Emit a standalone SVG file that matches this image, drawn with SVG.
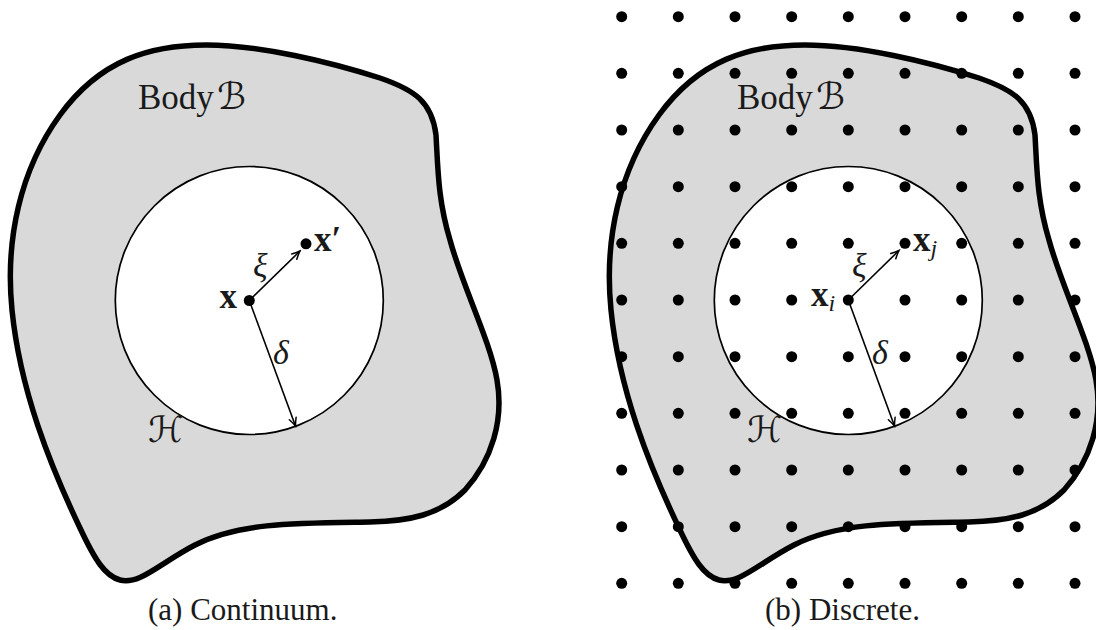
<svg xmlns="http://www.w3.org/2000/svg" width="1096" height="630" viewBox="0 0 1096 630">
  <style>
    .body { fill: #d9d9d9; stroke: #000; stroke-width: 5.5; stroke-linejoin: round; }
    .hor { fill: #fff; stroke: #000; stroke-width: 1.7; }
    .dot { fill: #000; }
    .conn { stroke: #000; stroke-width: 1.6; fill: none; marker-end: url(#arr); }
    .rm { font-family: "Liberation Serif", "Times New Roman", serif; fill: #1a1a1a; }
    .bf { font-family: "Liberation Serif", "Times New Roman", serif; font-weight: bold; fill: #1a1a1a; }
    .it { font-family: "Liberation Serif", "Times New Roman", serif; font-style: italic; fill: #1a1a1a; }
    .cal { font-family: "DejaVu Serif", "DejaVu Sans", serif; font-style: italic; fill: #1a1a1a; }
  </style>
  <defs>
    <marker id="arr" markerUnits="userSpaceOnUse" viewBox="-10 -6 12 12" refX="0" refY="0" markerWidth="12" markerHeight="12" orient="auto">
      <path d="M -8 -3.6 Q -3 -1 0 0 Q -3 1 -8 3.6" fill="none" stroke="#000" stroke-width="1.5" stroke-linecap="round"/>
    </marker>
    <path id="shape" d="M 206 45 C 260 45 330 62 380 78 C 415 90 432 102 436 135 C 438 170 438 200 450 240 C 462 285 490 340 497 380 C 504 420 492 460 465 490 C 440 515 410 521 370 522 C 300 523 240 522 195 545 C 160 563 140 585 120 580 C 105 576 95 560 80 528 C 50 465 20 390 12 310 C 5 240 20 170 60 115 C 100 60 150 45 206 45 Z"/>
  </defs>

  <!-- Panel (a) -->
  <g id="body-a"><use href="#shape" class="body"/></g>
  <g id="horizon-a"><circle class="hor" cx="249.3" cy="300.5" r="134"/></g>
  <g id="connectors-a">
    <line class="conn" x1="249.3" y1="300.5" x2="300" y2="251"/>
    <line class="conn" x1="249.3" y1="300.5" x2="295.5" y2="426"/>
  </g>
  <g id="point-x"><circle class="dot" cx="249.3" cy="300.5" r="5.5"/></g>
  <g id="point-xprime"><circle class="dot" cx="306" cy="243.8" r="5.5"/></g>
  <g id="labels-a">
    <text class="rm" x="138" y="109" font-size="35">Body</text>
    <text class="cal" x="217" y="109" font-size="37">ℬ</text>
    <text class="bf" x="237" y="308" font-size="35" text-anchor="end">x</text>
    <text class="bf" x="314" y="251" font-size="35">x′</text>
    <text class="it" x="253" y="277" font-size="34">ξ</text>
    <text class="it" x="273" y="364" font-size="34">δ</text>
    <text class="cal" x="148" y="442" font-size="36">ℋ</text>
    <text class="rm" x="148" y="620" font-size="31">(a) Continuum.</text>
  </g>

  <!-- Panel (b) -->
  <g id="body-b"><use href="#shape" class="body" transform="translate(599,0)"/></g>
  <g id="horizon-b"><circle class="hor" cx="848.3" cy="300.5" r="134"/></g>
  <g id="grid-b" class="dot">
    <g id="row0"><circle cx="621.7" cy="16.7" r="5.5"/><circle cx="678.3" cy="16.7" r="5.5"/><circle cx="735" cy="16.7" r="5.5"/><circle cx="791.7" cy="16.7" r="5.5"/><circle cx="848.3" cy="16.7" r="5.5"/><circle cx="905" cy="16.7" r="5.5"/><circle cx="961.7" cy="16.7" r="5.5"/><circle cx="1018.3" cy="16.7" r="5.5"/><circle cx="1075" cy="16.7" r="5.5"/></g>
    <g id="row1"><circle cx="621.7" cy="73.3" r="5.5"/><circle cx="678.3" cy="73.3" r="5.5"/><circle cx="735" cy="73.3" r="5.5"/><circle cx="791.7" cy="73.3" r="5.5"/><circle cx="848.3" cy="73.3" r="5.5"/><circle cx="905" cy="73.3" r="5.5"/><circle cx="961.7" cy="73.3" r="5.5"/><circle cx="1018.3" cy="73.3" r="5.5"/><circle cx="1075" cy="73.3" r="5.5"/></g>
    <g id="row2"><circle cx="621.7" cy="130" r="5.5"/><circle cx="678.3" cy="130" r="5.5"/><circle cx="735" cy="130" r="5.5"/><circle cx="791.7" cy="130" r="5.5"/><circle cx="848.3" cy="130" r="5.5"/><circle cx="905" cy="130" r="5.5"/><circle cx="961.7" cy="130" r="5.5"/><circle cx="1018.3" cy="130" r="5.5"/><circle cx="1075" cy="130" r="5.5"/></g>
    <g id="row3"><circle cx="621.7" cy="186.7" r="5.5"/><circle cx="678.3" cy="186.7" r="5.5"/><circle cx="735" cy="186.7" r="5.5"/><circle cx="791.7" cy="186.7" r="5.5"/><circle cx="848.3" cy="186.7" r="5.5"/><circle cx="905" cy="186.7" r="5.5"/><circle cx="961.7" cy="186.7" r="5.5"/><circle cx="1018.3" cy="186.7" r="5.5"/><circle cx="1075" cy="186.7" r="5.5"/></g>
    <g id="row4"><circle cx="621.7" cy="243.3" r="5.5"/><circle cx="678.3" cy="243.3" r="5.5"/><circle cx="735" cy="243.3" r="5.5"/><circle cx="791.7" cy="243.3" r="5.5"/><circle cx="848.3" cy="243.3" r="5.5"/><circle cx="905" cy="243.3" r="5.5"/><circle cx="961.7" cy="243.3" r="5.5"/><circle cx="1018.3" cy="243.3" r="5.5"/><circle cx="1075" cy="243.3" r="5.5"/></g>
    <g id="row5"><circle cx="621.7" cy="300" r="5.5"/><circle cx="678.3" cy="300" r="5.5"/><circle cx="735" cy="300" r="5.5"/><circle cx="791.7" cy="300" r="5.5"/><circle cx="848.3" cy="300" r="5.5"/><circle cx="905" cy="300" r="5.5"/><circle cx="961.7" cy="300" r="5.5"/><circle cx="1018.3" cy="300" r="5.5"/><circle cx="1075" cy="300" r="5.5"/></g>
    <g id="row6"><circle cx="621.7" cy="356.7" r="5.5"/><circle cx="678.3" cy="356.7" r="5.5"/><circle cx="735" cy="356.7" r="5.5"/><circle cx="791.7" cy="356.7" r="5.5"/><circle cx="848.3" cy="356.7" r="5.5"/><circle cx="905" cy="356.7" r="5.5"/><circle cx="961.7" cy="356.7" r="5.5"/><circle cx="1018.3" cy="356.7" r="5.5"/><circle cx="1075" cy="356.7" r="5.5"/></g>
    <g id="row7"><circle cx="621.7" cy="413.3" r="5.5"/><circle cx="678.3" cy="413.3" r="5.5"/><circle cx="735" cy="413.3" r="5.5"/><circle cx="791.7" cy="413.3" r="5.5"/><circle cx="848.3" cy="413.3" r="5.5"/><circle cx="905" cy="413.3" r="5.5"/><circle cx="961.7" cy="413.3" r="5.5"/><circle cx="1018.3" cy="413.3" r="5.5"/><circle cx="1075" cy="413.3" r="5.5"/></g>
    <g id="row8"><circle cx="621.7" cy="470" r="5.5"/><circle cx="678.3" cy="470" r="5.5"/><circle cx="735" cy="470" r="5.5"/><circle cx="791.7" cy="470" r="5.5"/><circle cx="848.3" cy="470" r="5.5"/><circle cx="905" cy="470" r="5.5"/><circle cx="961.7" cy="470" r="5.5"/><circle cx="1018.3" cy="470" r="5.5"/><circle cx="1075" cy="470" r="5.5"/></g>
    <g id="row9"><circle cx="621.7" cy="526.7" r="5.5"/><circle cx="678.3" cy="526.7" r="5.5"/><circle cx="735" cy="526.7" r="5.5"/><circle cx="791.7" cy="526.7" r="5.5"/><circle cx="848.3" cy="526.7" r="5.5"/><circle cx="905" cy="526.7" r="5.5"/><circle cx="961.7" cy="526.7" r="5.5"/><circle cx="1018.3" cy="526.7" r="5.5"/><circle cx="1075" cy="526.7" r="5.5"/></g>
    <g id="row10"><circle cx="621.7" cy="583.3" r="5.5"/><circle cx="678.3" cy="583.3" r="5.5"/><circle cx="735" cy="583.3" r="5.5"/><circle cx="791.7" cy="583.3" r="5.5"/><circle cx="848.3" cy="583.3" r="5.5"/><circle cx="905" cy="583.3" r="5.5"/><circle cx="961.7" cy="583.3" r="5.5"/><circle cx="1018.3" cy="583.3" r="5.5"/><circle cx="1075" cy="583.3" r="5.5"/></g>
  </g>
  <g id="connectors-b">
    <line class="conn" x1="848.3" y1="300" x2="899" y2="250.5"/>
    <line class="conn" x1="848.3" y1="300" x2="894.5" y2="426"/>
  </g>
  <g id="labels-b">
    <text class="rm" x="737" y="109" font-size="35">Body</text>
    <text class="cal" x="816" y="109" font-size="37">ℬ</text>
    <text class="bf" x="811" y="306" font-size="35">x<tspan class="it" font-weight="normal" font-size="24" dy="5">i</tspan></text>
    <text class="bf" x="913" y="251" font-size="35">x<tspan class="it" font-weight="normal" font-size="24" dy="5">j</tspan></text>
    <text class="it" x="852" y="277" font-size="34">ξ</text>
    <text class="it" x="872" y="364" font-size="34">δ</text>
    <text class="cal" x="747" y="442" font-size="36">ℋ</text>
    <text class="rm" x="765" y="620" font-size="31">(b) Discrete.</text>
  </g>
</svg>
